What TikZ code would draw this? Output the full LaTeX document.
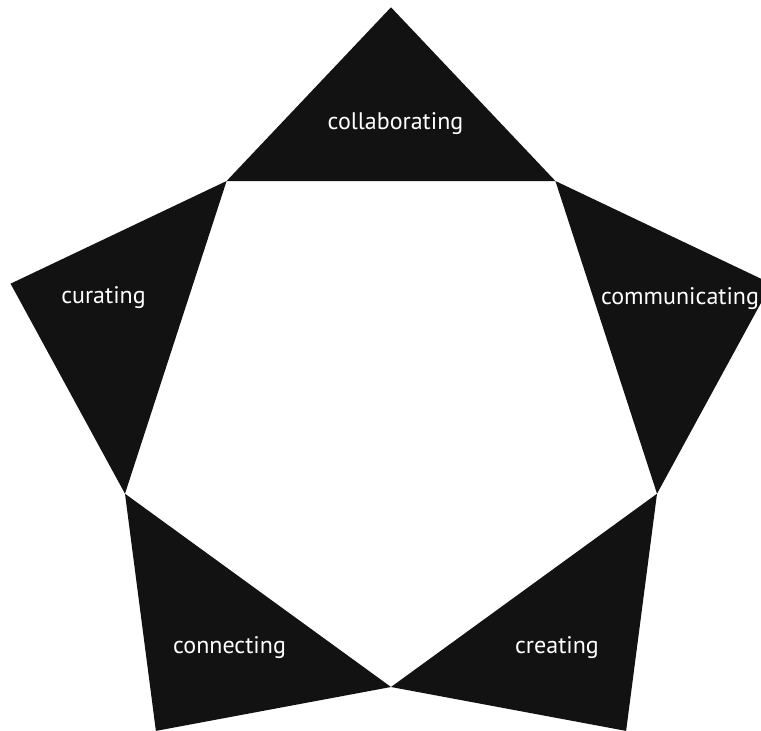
\documentclass[tikz,border=0pt]{standalone}
\usepackage{fontspec}
\setmainfont{PT Sans}
\usetikzlibrary{calc}

\begin{document}
\begin{tikzpicture}[
    x=1pt, y=1pt,
    wedge/.style={fill=black!93, draw=none},
    tag/.style={text=white, anchor=base, inner sep=0pt,
        font=\fontsize{24}{28}\selectfont}
]
\useasboundingbox (0,0) rectangle (761,731);
\clip (0,0) rectangle (761,731);

\coordinate (c) at (391,323.7);

% inner pentagon
\foreach \i/\a in {1/54,2/126,3/198,4/270,5/342}
    \coordinate (in\i) at ($(c)+(\a:279.7)$);

% outer tips
\foreach \i/\a in {1/90,2/162,3/234,4/306,5/18}
    \coordinate (out\i) at ($(c)+(\a:400)$);

% Triangles
\foreach \i/\j in {1/2,2/3,3/4,4/5,5/1}
    \fill[wedge] (in\i) -- (out\i) -- (in\j) -- cycle;

% Labels
\node[tag] (collab) at (395.5,601) {collaborating};
\node[tag] (curate) at (103.5,427) {curating};
\node[tag] (connect) at (229.5,77) {connecting};
\node[tag] (create) at (557,77) {creating};
\node[tag] (communic) at (680,426) {communicating};

\end{tikzpicture}
\end{document}
